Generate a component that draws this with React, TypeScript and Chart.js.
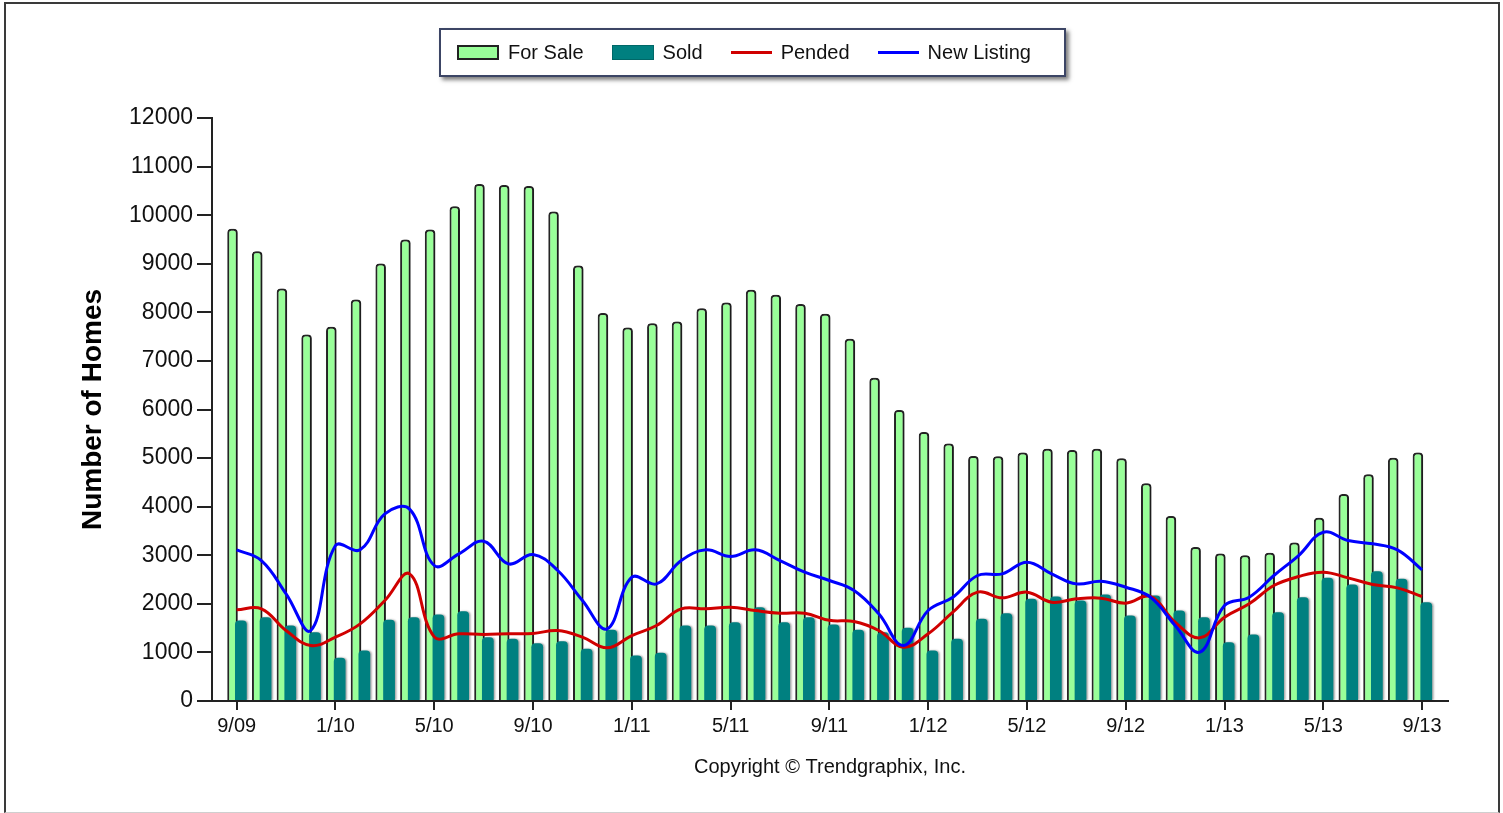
import React, { useEffect, useRef } from "react";
import { Chart, registerables } from "chart.js";

Chart.register(...registerables);

// ---- Data ----
const months = [
  "9/09", "10/09", "11/09", "12/09",
  "1/10", "2/10", "3/10", "4/10", "5/10", "6/10", "7/10", "8/10", "9/10", "10/10", "11/10", "12/10",
  "1/11", "2/11", "3/11", "4/11", "5/11", "6/11", "7/11", "8/11", "9/11", "10/11", "11/11", "12/11",
  "1/12", "2/12", "3/12", "4/12", "5/12", "6/12", "7/12", "8/12", "9/12", "10/12", "11/12", "12/12",
  "1/13", "2/13", "3/13", "4/13", "5/13", "6/13", "7/13", "8/13", "9/13",
];

const xTickLabels = ["9/09", "1/10", "5/10", "9/10", "1/11", "5/11", "9/11", "1/12", "5/12", "9/12", "1/13", "5/13", "9/13"];

const forSale = [
  9720, 9255, 8490, 7545, 7705, 8265, 9005, 9500, 9705, 10185, 10640, 10620, 10600, 10075, 8965, 7985,
  7690, 7775, 7810, 8085, 8200, 8465, 8360, 8170, 7970, 7455, 6655, 5990, 5535, 5300, 5045, 5040,
  5115, 5190, 5165, 5190, 4995, 4480, 3810, 3170, 3035, 3000, 3050, 3260, 3770, 4260, 4665, 5005, 5115,
];

const sold = [
  1657, 1725, 1554, 1417, 888, 1039, 1670, 1725, 1780, 1848, 1314, 1280, 1190, 1231, 1074, 1465,
  936, 992, 1554, 1554, 1622, 1931, 1622, 1725, 1574, 1465, 1417, 1506, 1039, 1280, 1691, 1808,
  2103, 2151, 2068, 2192, 1760, 2171, 1862, 1725, 1210, 1369, 1828, 2137, 2535, 2398, 2672, 2515, 2034,
];

const pended = [
  1876, 1897, 1451, 1142, 1314, 1588, 2068, 2617, 1320, 1383, 1370, 1383, 1390, 1451, 1314, 1094,
  1348, 1554, 1897, 1897, 1931, 1862, 1808, 1808, 1660, 1636, 1451, 1108, 1383, 1828, 2240, 2123,
  2240, 2034, 2103, 2117, 2013, 2151, 1622, 1300, 1725, 2000, 2377, 2562, 2651, 2535, 2398, 2329, 2151,
];

const newListing = [
  3111, 2891, 2205, 1451, 3200, 3111, 3850, 3950, 2789, 3029, 3289, 2823, 3015, 2686, 2068, 1485,
  2549, 2411, 2891, 3111, 2974, 3111, 2891, 2651, 2480, 2274, 1794, 1142, 1862, 2137, 2583, 2617,
  2857, 2617, 2411, 2466, 2342, 2137, 1554, 1005, 1965, 2137, 2583, 2994, 3474, 3303, 3235, 3111, 2700,
];

const seriesNames = ["For Sale", "Sold", "Pended", "New Listing"];
const yMin = 0;
const yMax = 12000;
const yStep = 1000;
const yTitle = "Number of Homes";
const xTitle = "Copyright © Trendgraphix, Inc.";

// ---- Styles ----
const FONT = "'Liberation Sans', Arial, sans-serif";
const COL_FORSALE = "#99FF99";
const COL_FORSALE_BORDER = "#262626";
const COL_SOLD = "#008080";
const COL_PENDED = "#D00000";
const COL_NEW = "#0000FF";

const drawOrderPlugin = {
  id: "drawOrder",
  beforeDatasetsDraw(chart: any) {
    const ctx = chart.ctx;
    const count = chart.data.datasets.length;
    for (let i = 0; i < count; i++) {
      const meta = chart.getDatasetMeta(i);
      if (meta.hidden) continue;
      ctx.save();
      if (meta.type === "bar") {
        ctx.shadowColor = "rgba(0,0,0,0.35)";
        ctx.shadowBlur = 2;
        ctx.shadowOffsetX = 1.5;
        ctx.shadowOffsetY = 0;
      }
      meta.controller.draw();
      ctx.restore();
    }
    return false;
  },
};

export default function App() {
  const ref = useRef<HTMLCanvasElement | null>(null);

  useEffect(() => {
    const canvas = ref.current;
    if (!canvas) return;
    Chart.defaults.font.family = FONT;
    const toXY = (arr: number[]) => arr.map((v, i) => ({ x: i, y: v }));
    const topRound = { topLeft: 4, topRight: 4, bottomLeft: 0, bottomRight: 0 };

    const chart = new Chart(canvas, {
      type: "bar",
      data: {
        datasets: [
          {
            type: "bar",
            label: seriesNames[0],
            data: toXY(forSale),
            backgroundColor: COL_FORSALE,
            borderColor: COL_FORSALE_BORDER,
            borderWidth: 2,
            borderSkipped: "start",
            borderRadius: topRound,
            categoryPercentage: 0.68,
            barPercentage: 1.25,
          } as any,
          {
            type: "bar",
            label: seriesNames[1],
            data: toXY(sold),
            backgroundColor: COL_SOLD,
            borderWidth: 0,
            borderRadius: topRound,
            categoryPercentage: 0.68,
            barPercentage: 1.4,
          } as any,
          {
            type: "line",
            label: seriesNames[2],
            data: toXY(pended),
            borderColor: COL_PENDED,
            borderWidth: 3,
            pointRadius: 0,
            tension: 0.4,
            fill: false,
          } as any,
          {
            type: "line",
            label: seriesNames[3],
            data: toXY(newListing),
            borderColor: COL_NEW,
            borderWidth: 3,
            pointRadius: 0,
            tension: 0.4,
            fill: false,
          } as any,
        ],
      },
      options: {
        responsive: false,
        animation: false,
        devicePixelRatio: 1,
        layout: { padding: { left: 0, right: 55, top: 118, bottom: 0 } },
        plugins: {
          legend: { display: false },
          tooltip: { enabled: false },
        },
        scales: {
          x: {
            type: "linear",
            offset: false,
            min: -1,
            max: 49.05,
            afterBuildTicks: (scale: any) => {
              scale.ticks = xTickLabels.map((l) => ({ value: months.indexOf(l) }));
            },
            afterFit: (scale: any) => {
              scale.height = 112;
            },
            ticks: {
              autoSkip: false,
              maxRotation: 0,
              minRotation: 0,
              padding: 4,
              color: "#111",
              font: { size: 20, family: FONT },
              callback: (v: any) => months[Math.round(Number(v))] ?? "",
            },
            grid: {
              offset: false,
              drawOnChartArea: false,
              drawTicks: true,
              tickLength: 9,
              color: "#222",
              lineWidth: 2,
            },
            border: { display: true, color: "#222", width: 2 },
            title: {
              display: true,
              text: xTitle,
              color: "#111",
              font: { size: 20, family: FONT },
              padding: { top: 0, bottom: 34 },
            },
          } as any,
          y: {
            min: yMin,
            max: yMax,
            afterFit: (scale: any) => {
              scale.width = 212;
            },
            ticks: {
              stepSize: yStep,
              padding: 4,
              color: "#111",
              font: { size: 23, family: FONT },
              callback: (v: any) => String(v),
            },
            grid: {
              drawOnChartArea: false,
              drawTicks: true,
              tickLength: 15,
              color: "#222",
              lineWidth: 2,
            },
            border: { display: true, color: "#222", width: 2 },
            title: {
              display: true,
              text: yTitle,
              color: "#000",
              font: { size: 28, weight: "bold", family: FONT },
              padding: { top: 76, bottom: 0 },
            },
          } as any,
        },
      },
      plugins: [drawOrderPlugin as any],
    });

    return () => chart.destroy();
  }, []);

  const legendItems = [
    { name: seriesNames[0], kind: "box", color: COL_FORSALE, border: "2px solid #222" },
    { name: seriesNames[1], kind: "box", color: COL_SOLD, border: "1px solid #006868" },
    { name: seriesNames[2], kind: "line", color: COL_PENDED, border: "none" },
    { name: seriesNames[3], kind: "line", color: COL_NEW, border: "none" },
  ];

  return (
    <div
      style={{
        position: "fixed",
        left: 0,
        top: 0,
        width: 1503,
        height: 813,
        background: "#fff",
        overflow: "hidden",
      }}
    >
      <canvas
        ref={ref}
        width={1503}
        height={813}
        style={{ position: "absolute", left: 0, top: 0, width: 1503, height: 813 }}
      />
      <div
        style={{
          position: "absolute",
          left: 439,
          top: 28,
          width: 627,
          height: 49,
          boxSizing: "border-box",
          border: "2px solid #3c4565",
          background: "#fff",
          boxShadow: "3px 3px 4px rgba(0,0,0,0.5)",
          display: "flex",
          alignItems: "center",
          paddingLeft: 16,
          fontFamily: FONT,
          fontSize: 20,
          color: "#111",
          whiteSpace: "nowrap",
        }}
      >
        {legendItems.map((it, idx) => (
          <div key={it.name} style={{ display: "flex", alignItems: "center", marginRight: idx < legendItems.length - 1 ? 28 : 0 }}>
            {it.kind === "box" ? (
              <span
                style={{
                  display: "inline-block",
                  width: 42,
                  height: 15,
                  boxSizing: "border-box",
                  background: it.color,
                  border: it.border,
                }}
              />
            ) : (
              <span style={{ display: "inline-block", width: 41, height: 3, background: it.color }} />
            )}
            <span style={{ marginLeft: 9 }}>{it.name}</span>
          </div>
        ))}
      </div>
      <div
        style={{
          position: "absolute",
          left: 4,
          top: 2,
          width: 1496,
          height: 811,
          boxSizing: "border-box",
          borderLeft: "2px solid #3a3a3a",
          borderTop: "2px solid #3a3a3a",
          borderRight: "2px solid #3a3a3a",
          borderBottom: "1px solid #cfcfcf",
          pointerEvents: "none",
        }}
      />
    </div>
  );
}
